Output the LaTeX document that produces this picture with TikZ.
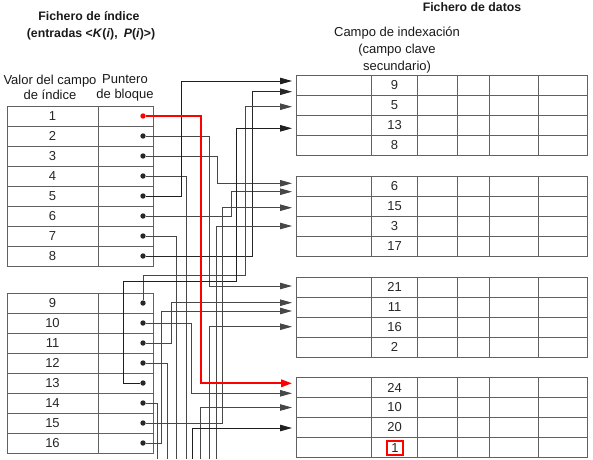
\documentclass[tikz,border=0pt]{standalone}
\usepackage{fontspec}
\setmainfont{Liberation Sans}
\usetikzlibrary{arrows.meta}
\begin{document}
\begin{tikzpicture}[x=1pt,y=-1pt,
  tbl/.style={draw=black!62, line width=0.8pt},
  wire/.style={draw=black!72, line width=0.8pt},
  arr/.style={wire, -{Triangle[length=12pt,width=6.5pt]}},
  redarr/.style={draw=red, line width=2pt, -{Triangle[length=11pt,width=7.5pt]}},
  dot/.style={circle, fill=black!85, inner sep=0pt, minimum size=5.4pt},
  reddot/.style={circle, fill=red, inner sep=0pt, minimum size=5.4pt},
  num/.style={font=\fontsize{13}{15}\selectfont, text=black!85, inner sep=0pt},
  lab/.style={font=\fontsize{13}{15}\selectfont, align=center, text=black!90},
  hdr/.style={font=\fontsize{12.3}{15}\selectfont\bfseries, text=black!90}]
\useasboundingbox (0,0) rectangle (593,459);

% headers
\node[hdr] (h1) at (89,16) {Fichero de índice};
\node[hdr] (h2) at (91,34) {(entradas <\textit{K}(\textit{i}),\hspace{0.5em}\textit{P}(\textit{i})>)};
\node[lab] (h3) at (50,87.5) {Valor del campo\\de índice};
\node[lab] (h4) at (125,87.5) {Puntero\\de bloque};
\node[hdr] (h5) at (472,7) {Fichero de datos};
\node[lab, font=\fontsize{13}{16.7}\selectfont] (h6) at (397,50) {Campo de indexación\\(campo clave\\secundario)};

% index table 1
\draw[tbl] (7,106) rectangle (153,266);
\draw[tbl] (98,106) -- (98,266);
\foreach \y in {126,146,166,186,206,226,246} \draw[tbl] (7,\y) -- (153,\y);
\foreach \k in {1,...,8} {
  \node[num] (k\k) at (52.5,96+20*\k) {\k};
}
\node[reddot] (p1) at (143,116) {};
\foreach \k in {2,...,8} {
  \node[dot] (p\k) at (143,96+20*\k) {};
}

% index table 2
\draw[tbl] (7,293) rectangle (153,453);
\draw[tbl] (98,293) -- (98,453);
\foreach \y in {313,333,353,373,393,413,433} \draw[tbl] (7,\y) -- (153,\y);
\foreach \k in {9,...,16} {
  \node[num] (k\k) at (52.5,123+20*\k) {\k};
  \node[dot] (p\k) at (143,123+20*\k) {};
}

% data blocks
\foreach \t/\a/\b/\c/\d [count=\j] in {75/9/5/13/8, 176.5/6/15/3/17, 277/21/11/16/2, 377.5/24/10/20/} {
  \draw[tbl] (296,\t) rectangle (587,\t+80);
  \foreach \x in {371.7,417.3,457.7,489.3,538.3} \draw[tbl] (\x,\t) -- (\x,\t+80);
  \foreach \r in {20,40,60} \draw[tbl] (296,\t+\r) -- (587,\t+\r);
  \node[num] (d\j a) at (394.5,\t+10) {\a};
  \node[num] (d\j b) at (394.5,\t+30) {\b};
  \node[num] (d\j c) at (394.5,\t+50) {\c};
  \node[num] (d\j d) at (394.5,\t+70) {\d};
}
\node[num, draw=red, line width=1.8pt, minimum width=16pt, minimum height=13.5pt] (one) at (395,448) {1};

% arrow targets
\coordinate (t1) at (292,383.3);
\coordinate (t2) at (292,286);
\coordinate (t3) at (292,183.3);
\coordinate (t5) at (292,81);
\coordinate (t6) at (292,191.7);
\coordinate (t8) at (292,91.7);
\coordinate (t9) at (292,106.7);
\coordinate (t10) at (292,393.3);
\coordinate (t11) at (292,302.7);
\coordinate (t13) at (292,128.3);
\coordinate (t15) at (292,207.7);
\coordinate (t16) at (292,311);
\coordinate (tA) at (292,226);
\coordinate (tB) at (292,326.7);
\coordinate (tC) at (292,407.5);
\coordinate (tD) at (292,428);
% free ends at the bottom
\coordinate (o4) at (186.7,459);
\coordinate (o7) at (176.5,459);
\coordinate (o12) at (167.3,459);
\coordinate (o14) at (157,459);
\coordinate (iA) at (216,459);
\coordinate (iB) at (209.3,459);
\coordinate (iC) at (200,459);
\coordinate (iD) at (192.5,459);

% connectors
\draw[arr] (p2) -| (209.5,286) -- (t2);
\draw[arr] (p3) -| (217,183.3) -- (t3);
\draw[wire] (p4) -| (o4);
\draw[arr, draw=black!88] (p5) -| (181.5,81) -- (t5);
\draw[arr] (p6) -| (231,191.7) -- (t6);
\draw[wire] (p7) -| (o7);
\draw[arr, draw=black!85] (p8) -| (252.7,91.7) -- (t8);
\draw[arr] (p9) |- (245,275) |- (t9);
\draw[arr] (p10) -| (191.7,393.3) -- (t10);
\draw[arr] (p11) -| (171.7,302.7) -- (t11);
\draw[wire] (p12) -| (o12);
\draw[arr, draw=black!88] (p13) -- (123.3,383) |- (236.7,281) |- (t13);
\draw[wire] (p14) -| (o14);
\draw[arr] (p15) -| (222.7,207.7) -- (t15);
\draw[arr] (p16) -| (161.7,311) -- (t16);
\draw[arr] (iA) |- (tA);
\draw[arr] (iB) |- (tB);
\draw[arr] (iC) |- (tC);
\draw[arr, draw=black!88] (iD) |- (tD);
\draw[redarr] (p1) -| (201,383.3) -- (t1);
\end{tikzpicture}
\end{document}
